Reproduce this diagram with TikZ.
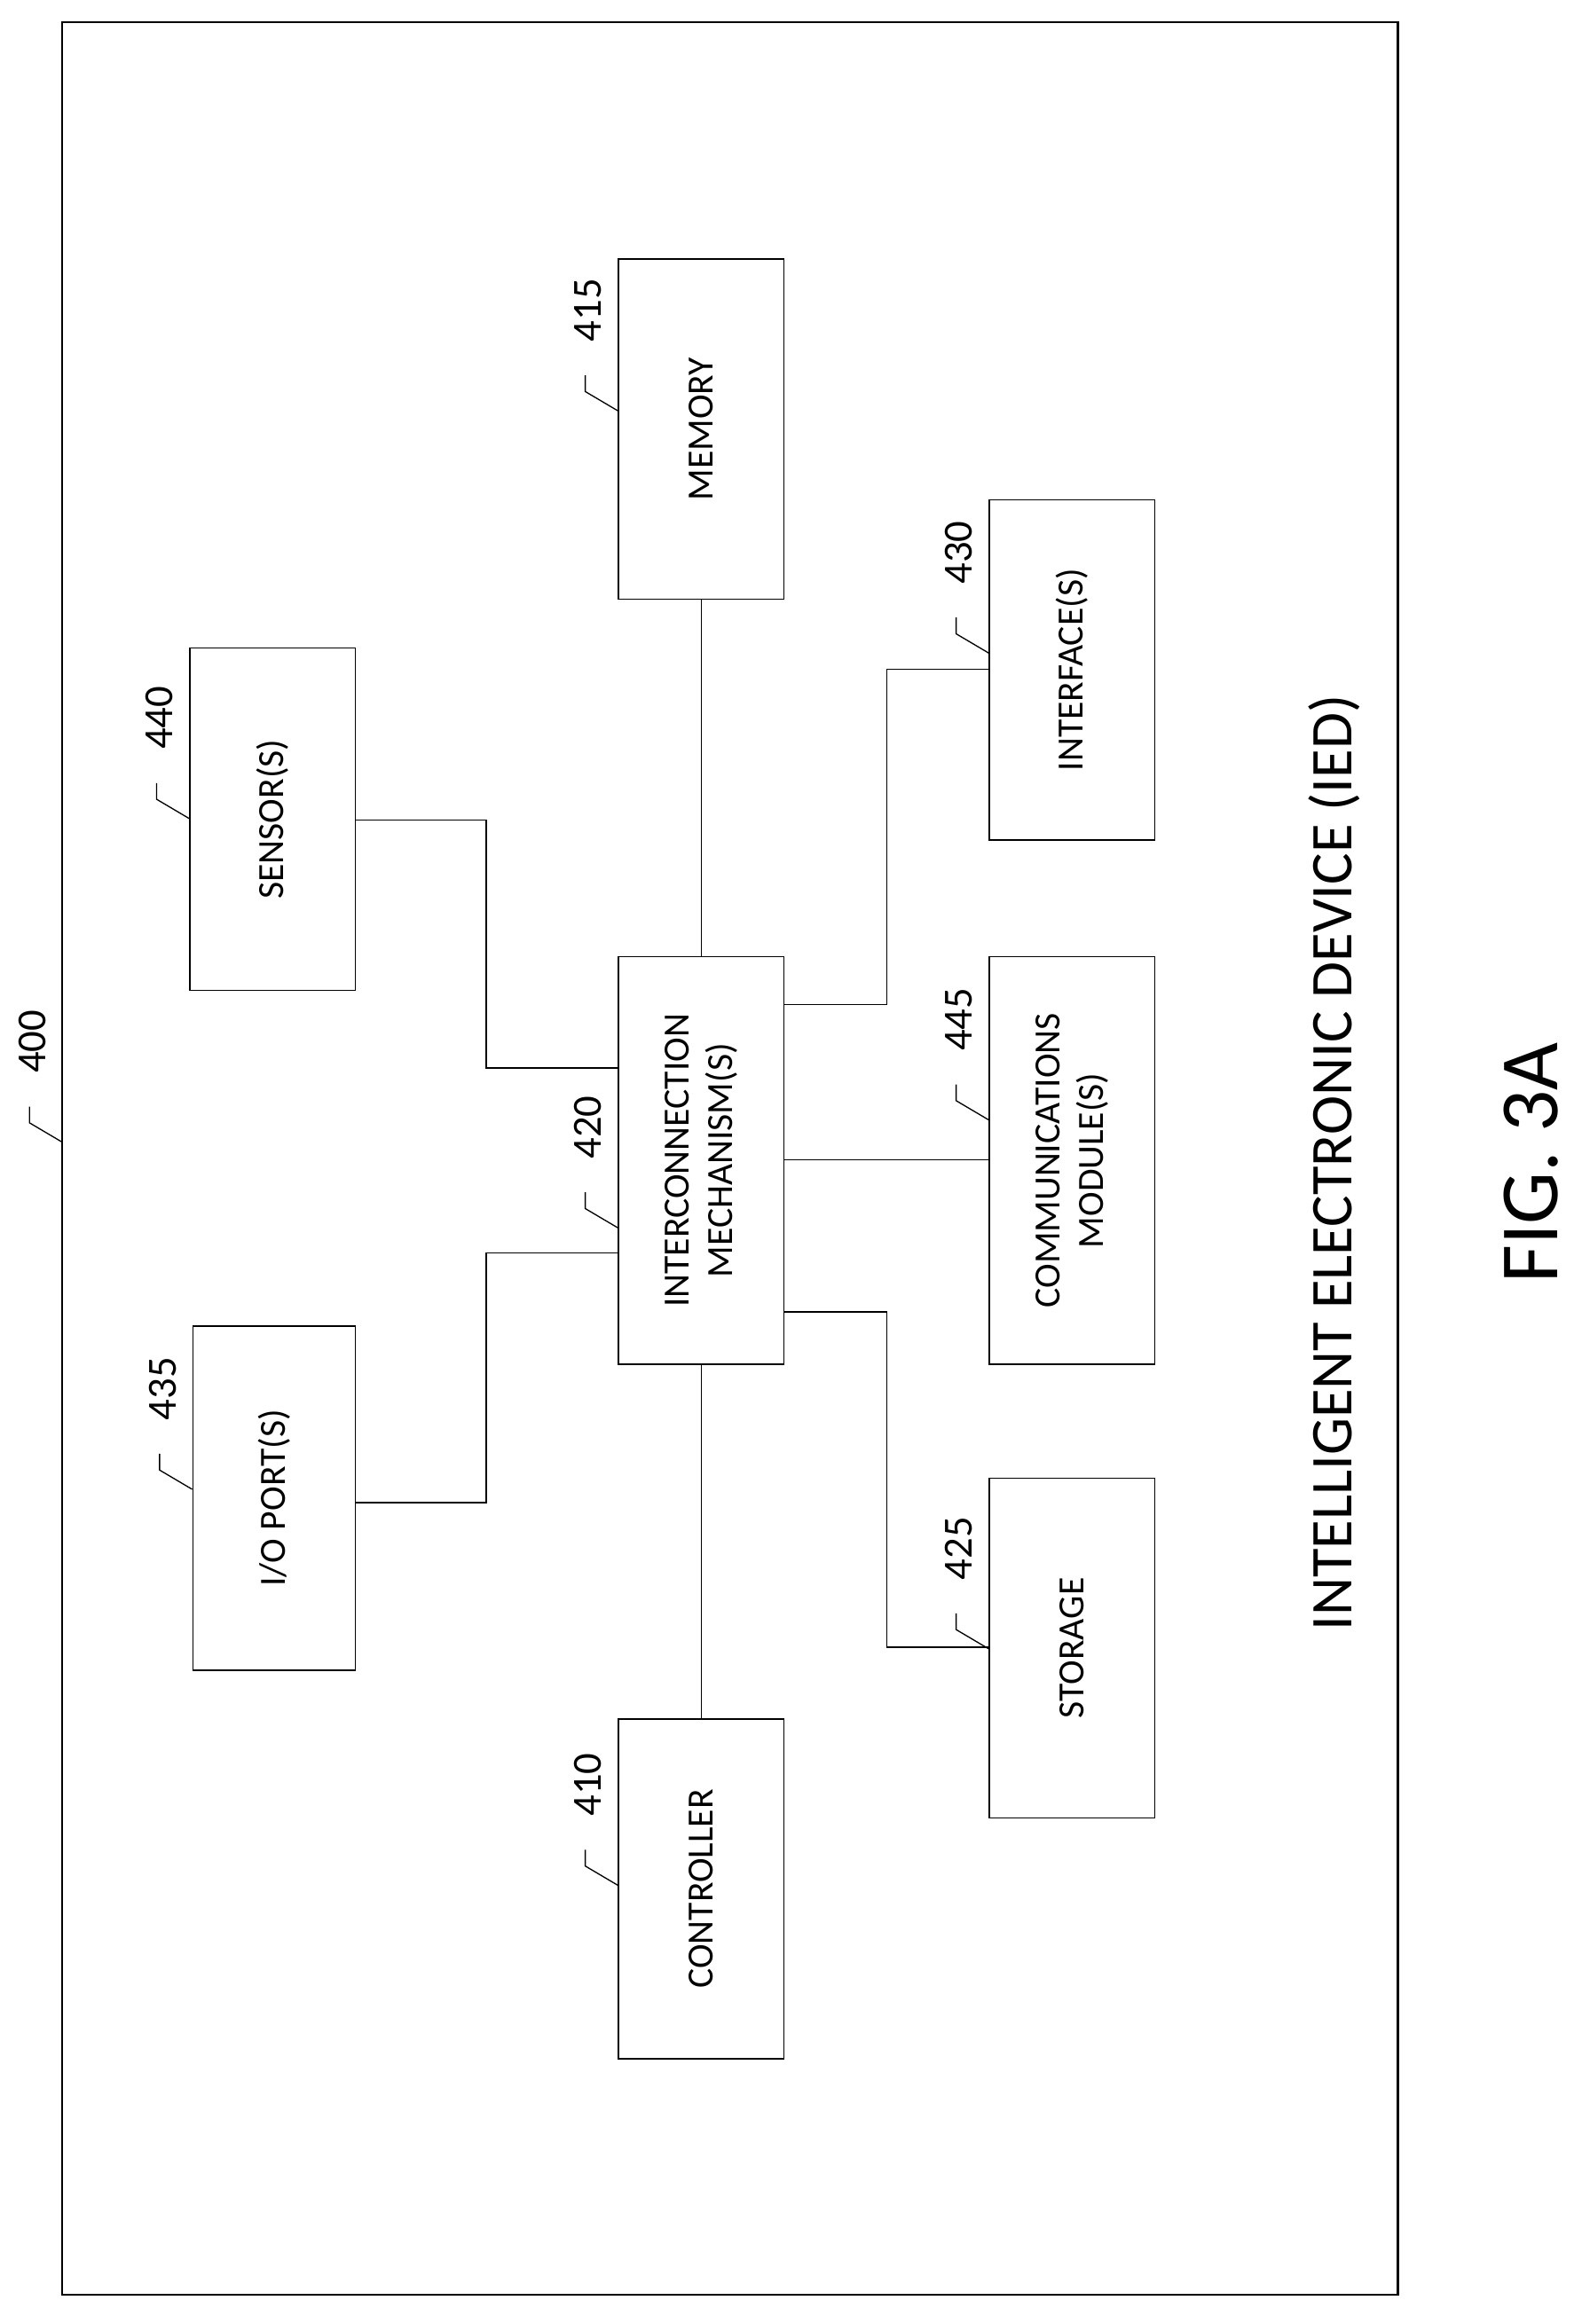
\documentclass[tikz,border=0pt]{standalone}
\usepackage{fontspec}
\setmainfont{Carlito}
\begin{document}
\begin{tikzpicture}[x=1pt,y=-1pt,
 blk/.style={draw,line width=0.9pt,inner sep=0pt,anchor=north west},
 lnk/.style={line width=0.9pt},
 num/.style={font=\fontsize{28}{32}\selectfont,rotate=90}]
\useasboundingbox (0,0) rectangle (1070,1573);
\draw[line width=1pt] (42,15) rectangle (946,1553);
\draw[line width=1.6pt] (42,15) -- (946,15) -- (946,1553);
\newcommand{\bx}[6]{\node[blk,minimum width=#4-#2,minimum height=#5-#3] (#1) at (#2,#3) {};
 \node[rotate=90,font=\fontsize{25}{29}\selectfont,align=center] at (#1.center) {#6};}
\bx{mem}{418}{175}{530}{405}{MEMORY}
\bx{sen}{128}{438}{240}{670}{SENSOR(S)}
\bx{itf}{669}{338}{781}{568}{INTERFACE(S)}
\bx{ic}{418}{647}{530}{923}{INTERCONNECTION\\MECHANISM(S)}
\bx{com}{669}{647}{781}{923}{COMMUNICATIONS\\MODULE(S)}
\bx{io}{130}{897}{240}{1130}{I/O PORT(S)}
\bx{sto}{669}{1000}{781}{1230}{STORAGE}
\bx{ctl}{418}{1163}{530}{1393}{CONTROLLER}
\draw[lnk] (mem.south) -- (ic.north);
\draw[lnk] (ctl.north) -- (ic.south);
\draw[lnk] (sen.east |- 0,555) -| (329,723) -- (ic.west |- 0,723);
\draw[lnk] (io.east |- 0,1017) -| (329,848) -- (ic.west |- 0,848);
\draw[lnk] (ic.east |- 0,680) -| (600,453) -- (itf.west |- 0,453);
\draw[lnk] (ic.east |- 0,785) -- (com.west |- 0,785);
\draw[lnk] (ic.east |- 0,888) -| (600,1115) -- (sto.west |- 0,1115);
\newcommand{\lab}[4]{\node[num] (#1) at (#2,#3) {#4};
 \draw[line width=0.8pt] (#2-2,#3+44) -- (#2-2,#3+55) -- (#2+20,#3+68);}
\lab{l400}{22}{705}{400}
\lab{l415}{398}{210}{415}
\lab{l440}{108}{486}{440}
\lab{l430}{649}{374}{430}
\lab{l445}{649}{690}{445}
\lab{l420}{398}{763}{420}
\lab{l435}{110}{940}{435}
\lab{l425}{649}{1048}{425}
\lab{l410}{398}{1208}{410}
\node[rotate=90,font=\fontsize{40}{46}\selectfont] (ied) at (903,787) {INTELLIGENT ELECTRONIC DEVICE (IED)};
\node[rotate=90,font=\fontsize{56}{62}\selectfont] (fig) at (1036,787) {FIG. 3A};
\end{tikzpicture}
\end{document}
